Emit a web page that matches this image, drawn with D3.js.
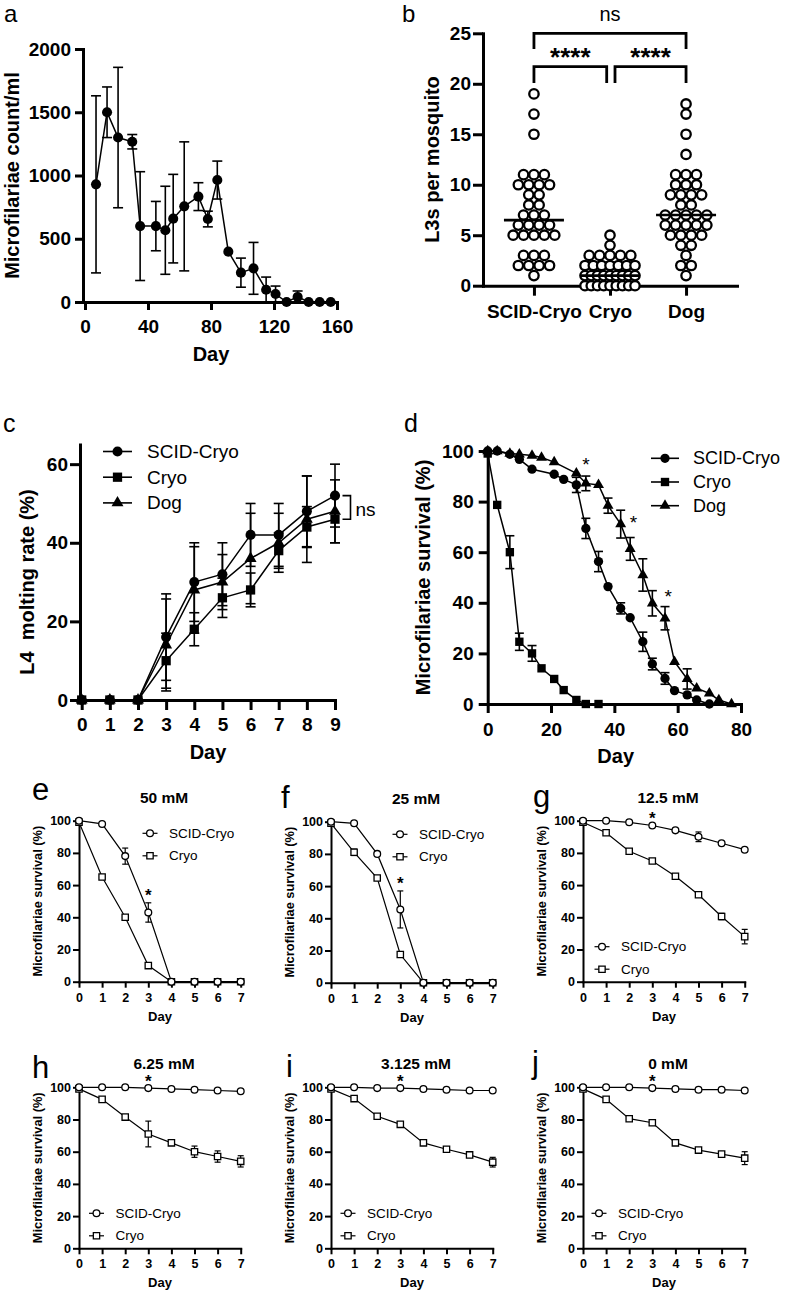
<!DOCTYPE html>
<html>
<head>
<meta charset="utf-8">
<script src="https://cdn.jsdelivr.net/npm/d3@7"></script>
<style>body{margin:0;background:#fff}</style>
</head>
<body>
<script>
// ---------- panel a : microfilaraemia over time ----------
var mfDays  = [7,14,21,30,35,45,51,56,63,72,78,84,91,99,107,115,121,128,135,142,149,156];
var mfCount = [930,1500,1300,1267,600,600,567,659,756,833,656,964,398,232,266,97,63,0,40,0,0,0];
var mfSD    = [700,200,555,57,430,195,348,350,510,110,62,150,0,115,205,100,63,0,47,0,0,0];
var mfTicksX = [0,40,80,120,160];
var mfTicksY = [0,500,1000,1500,2000];

// ---------- panel b : L3 per mosquito ----------
var l3Groups = ["SCID-Cryo","Cryo","Dog"];
var l3Scid = [19,17,15,11,11,11,10,10,10,10,9,9,8,8,7,7,7,6,6,6,6,5,5,5,5,5,3,3,3,2,2,2,2,1];
var l3Cryo = [5,4,3,3,3,3,3,2,2,2,2,2,2,2,1,1,1,1,1,1,1,1,1,0,0,0,0,0,0,0,0,0];
var l3Dog  = [18,17,15,13,11,11,11,10,10,10,9,9,9,9,8,8,7,7,7,7,7,6,6,6,6,6,5,5,5,5,4,4,3,2,2,1];
var l3Center = [6.5,1,7];
var l3Ticks = [0,5,10,15,20,25];
var l3Comparisons = [["SCID-Cryo","Dog","ns"],["SCID-Cryo","Cryo","****"],["Cryo","Dog","****"]];

// ---------- panel c : L4 molting ----------
var moltDays   = [0,1,2,3,4,5,6,7,8,9];
var moltScid   = [0,0,0,16,30,32,42,42,48,52];
var moltScidSD = [0,0,0,11,10,8,8,8,9,8];
var moltCryo   = [0,0,0,10,18,26,28,38,44,46];
var moltCryoSD = [0,0,0,7,4.2,5,4.3,4.5,5.2,6];
var moltDog    = [0,0,0,14,28,30,36,40,46,48];
var moltDogSD  = [0,0,0,11.7,11,7,11.5,7.5,11,8];
var moltTicksY = [0,20,40,60];

// ---------- panel d : microfilariae survival ----------
var survScidDays = [0,3,7,10,14,21,24,28,31,35,38,42,45,49,52,56,59,63,66,70];
var survScid     = [100,100,98.7,96.7,92.8,90.8,88.8,86.6,69.4,56.3,46.4,37.8,34.1,24.6,15.8,10.1,5.3,3.6,1.6,0];
var survScidSD   = [0,0,0,0,0,0,0,3,4,4,0,2.2,0,3.8,2.3,2.3,0,0,0,0];
var survCryoDays = [0,3,7,10,14,17,21,24,28,31,35];
var survCryo     = [99,78.7,60,24.6,20,14.1,9.9,5.5,1.6,0,0];
var survCryoSD   = [0,0,6.5,3.4,3.1,0,0,0,0,0,0];
var survDogDays  = [0,3,7,10,14,17,21,28,31,35,38,42,45,49,52,56,59,63,66,70,73,77];
var survDog      = [100,100,99,98.7,98.2,97.4,95.6,91.2,87.2,86.6,78.4,71.1,61.3,51,39.8,33.9,16.7,9.9,6.2,4.2,1.6,0];
var survDogSD    = [0,0,0,0,0,0,0,0,2.9,0,3,5.5,4.5,6.4,5,4.6,0,4,0,0,0,0];
var survStars    = [[31,96],[46,73],[57,44]];
var survTicksX = [0,20,40,60,80];
var survTicksY = [0,20,40,60,80,100];

// ---------- panels e-j : survival under drug concentrations ----------
var drugDays = [0,1,2,3,4,5,6,7];
var drugTicksY = [0,20,40,60,80,100];
var c50Scid   = [100,98,78,43,0,0,0,0];
var c50ScidSD = [0,0,5,6,0,0,0,0];
var c50Cryo   = [99,65,40,10,0,0,0,0];
var c50CryoSD = [0,0,0,0,0,0,0,0];
var c25Scid   = [100,99,80,45.5,0,0,0,0];
var c25ScidSD = [0,0,0,11.5,0,0,0,0];
var c25Cryo   = [99,81,65,17.5,0,0,0,0];
var c25CryoSD = [0,2,0,0,0,0,0,0];
var c12Scid   = [100,100,99,97,94,90,86,82];
var c12ScidSD = [0,0,0,0,0,3,0,0];
var c12Cryo   = [99,92.5,81,75,65.5,54,40.5,28];
var c12CryoSD = [0,0,0,0,0,0,2,4.5];
var c6Scid    = [100,100,100,99.5,99,98.5,98,97.5];
var c6ScidSD  = [0,0,0,0,0,0,0,0];
var c6Cryo    = [99,92.5,81.5,71,65.5,60,57,54];
var c6CryoSD  = [0,0,0,8,0,3.5,3.5,3.5];
var c3Scid    = [100,100,99.5,99.5,99,98.5,98,98];
var c3ScidSD  = [0,0,0,0,0,0,0,0];
var c3Cryo    = [99,93,82,77,65.5,61.5,58,53.5];
var c3CryoSD  = [0,0,0,0,0,0,0,3];
var c0Scid    = [100,100,100,99.5,99,98.5,98.5,98];
var c0ScidSD  = [0,0,0,0,0,0,0,0];
var c0Cryo    = [99,92.5,80.5,78,65.5,61,58.5,56];
var c0CryoSD  = [0,0,0,0,0,0,0,4];

var FONT = "'Liberation Sans', Arial, Helvetica, sans-serif";

var svg = d3.select("body").append("svg")
  .attr("width", 785)
  .attr("height", 1292)
  .attr("font-family", FONT)
  .style("display", "block");

function label(x, y, s, size, weight, anchor, rot) {
  var t = svg.append("text")
    .attr("x", x).attr("y", y)
    .attr("font-size", size)
    .attr("font-weight", weight || "normal")
    .attr("text-anchor", anchor || "start")
    .attr("fill", "#000")
    .text(s);
  if (rot) {
    t.attr("transform", "rotate(-90," + x + "," + y + ")")
      .attr("dominant-baseline", "central");
  }
  return t;
}

function axes(x, y, o) {
  var bottom = d3.axisBottom(x).tickSize(o.ts).tickSizeOuter(0).tickPadding(o.xp);
  if (o.xt) bottom.tickValues(o.xt).tickFormat(d3.format("d"));
  var left = d3.axisLeft(y).tickValues(o.yt).tickFormat(d3.format("d"))
    .tickSize(o.ts).tickSizeOuter(0).tickPadding(o.yp);
  var ax = svg.append("g").attr("transform", "translate(0," + y.range()[0] + ")").call(bottom);
  var ay = svg.append("g").attr("transform", "translate(" + o.x0 + ",0)").call(left);
  [ax, ay].forEach(function(a) {
    a.attr("font-family", FONT).attr("font-size", o.fs).attr("font-weight", "bold");
    a.select(".domain").attr("stroke-width", o.sw).attr("stroke-linecap", "square");
    a.selectAll(".tick line").attr("stroke-width", o.sw);
    a.selectAll(".tick text").attr("fill", "#000");
  });
}

function series(x, y, xs, ys, sd, o) {
  var g = svg.append("g");
  var pts = d3.zip(xs, ys, sd);
  var lo = y.domain()[0];
  var eb = g.append("g").attr("stroke", "#000").attr("stroke-width", o.ew);
  pts.filter(function(d) { return d[2] > 0; }).forEach(function(d) {
    var cx = x(d[0]);
    var top = y(d[1] + d[2]), bot = y(Math.max(lo, d[1] - d[2]));
    eb.append("line").attr("x1", cx).attr("x2", cx).attr("y1", top).attr("y2", bot);
    eb.append("line").attr("x1", cx - o.cap / 2).attr("x2", cx + o.cap / 2).attr("y1", top).attr("y2", top);
    if (d[1] - d[2] > lo) {
      eb.append("line").attr("x1", cx - o.cap / 2).attr("x2", cx + o.cap / 2).attr("y1", bot).attr("y2", bot);
    }
  });
  g.append("path")
    .datum(pts)
    .attr("fill", "none")
    .attr("stroke", "#000")
    .attr("stroke-width", o.lw)
    .attr("d", d3.line().x(function(d) { return x(d[0]); }).y(function(d) { return y(d[1]); }));
  g.selectAll(".m")
    .data(pts)
    .enter()
    .append("path")
    .attr("transform", function(d) { return "translate(" + x(d[0]) + "," + y(d[1]) + ")"; })
    .attr("d", d3.symbol(o.sym, o.size))
    .attr("fill", o.fill)
    .attr("stroke", "#000")
    .attr("stroke-width", o.msw);
}

function legend(items, mx, y0, dy, half, tdx, fs, lw) {
  items.forEach(function(it, i) {
    var yy = y0 + i * dy;
    svg.append("line").attr("x1", mx - half).attr("x2", mx + half).attr("y1", yy).attr("y2", yy)
      .attr("stroke", "#000").attr("stroke-width", lw);
    svg.append("path").attr("transform", "translate(" + mx + "," + yy + ")")
      .attr("d", d3.symbol(it.sym, it.size))
      .attr("fill", it.fill).attr("stroke", "#000").attr("stroke-width", it.msw);
    label(mx + tdx, yy, it.label, fs).attr("dominant-baseline", "central");
  });
}

// ================= panel a =================
var xa = d3.scaleLinear().domain([0, 160]).range([85, 337]);
var ya = d3.scaleLinear().domain([0, 2000]).range([302, 49]);
axes(xa, ya, {x0: 83, xt: mfTicksX, yt: mfTicksY, ts: 8, xp: 10, yp: 4, fs: 19, sw: 3});
series(xa, ya, mfDays, mfCount, mfSD, {sym: d3.symbolCircle, size: 80, fill: "#000", lw: 1.5, ew: 1.6, cap: 10, msw: 0});
label(4, 22, "a", 24);
label(12, 175.5, "Microfilariae count/ml", 20, "bold", "middle", true);
label(211, 361, "Day", 20, "bold", "middle");

// ================= panel b =================
var xb = d3.scalePoint().domain(l3Groups).range([483, 737]).padding(0.67);
var yb = d3.scaleLinear().domain([0, 25]).range([285.7, 33.3]);
axes(xb, yb, {x0: 483, xt: null, yt: l3Ticks, ts: 10, xp: 9, yp: 2, fs: 19, sw: 3});
[l3Scid, l3Cryo, l3Dog].forEach(function(vals, gi) {
  var cx = xb(l3Groups[gi]);
  var rows = d3.group(vals, function(v) { return v; });
  rows.forEach(function(arr, v) {
    var n = arr.length;
    var step = n > 1 ? Math.min(10.4, 50 / (n - 1)) : 0;
    arr.forEach(function(d, i) {
      svg.append("circle")
        .attr("cx", cx + (i - (n - 1) / 2) * step)
        .attr("cy", yb(v))
        .attr("r", 4.7)
        .attr("fill", "#fff")
        .attr("stroke", "#000")
        .attr("stroke-width", 2.3);
    });
  });
  svg.append("line")
    .attr("x1", cx - 30).attr("x2", cx + 30)
    .attr("y1", yb(l3Center[gi])).attr("y2", yb(l3Center[gi]))
    .attr("stroke", "#000").attr("stroke-width", 2.6);
});
// significance brackets
l3Comparisons.forEach(function(c, i) {
  var x1 = xb(c[0]), x2 = xb(c[1]);
  var top = i === 0 ? 33.3 : 66.7, leg = i === 0 ? 49 : 83;
  if (i === 1) x2 -= 3.3;
  if (i === 2) x1 += 5;
  svg.append("path")
    .attr("d", "M" + x1 + "," + leg + "V" + top + "H" + x2 + "V" + leg)
    .attr("fill", "none").attr("stroke", "#000").attr("stroke-width", 2.8);
  if (i === 0) label((x1 + x2) / 2, 21, c[2], 20, "normal", "middle");
  else label((x1 + x2) / 2, 66, c[2], 26, "bold", "middle");
});
label(402, 22, "b", 24);
label(431.7, 159.5, "L3s per mosquito", 20, "bold", "middle", true);

// ================= panel c =================
var xc = d3.scaleLinear().domain([0, 9]).range([81.7, 335]);
var yc = d3.scaleLinear().domain([0, 65]).range([700, 444.5]);
axes(xc, yc, {x0: 80, xt: moltDays, yt: moltTicksY, ts: 10, xp: 8, yp: 2, fs: 19, sw: 3});
var bigOpt = {lw: 1.5, ew: 1.6, cap: 10, msw: 0, fill: "#000"};
series(xc, yc, moltDays, moltCryo, moltCryoSD, Object.assign({sym: d3.symbolSquare, size: 86}, bigOpt));
series(xc, yc, moltDays, moltDog, moltDogSD, Object.assign({sym: d3.symbolTriangle, size: 62}, bigOpt));
series(xc, yc, moltDays, moltScid, moltScidSD, Object.assign({sym: d3.symbolCircle, size: 80}, bigOpt));
legend([
  {label: "SCID-Cryo", sym: d3.symbolCircle, size: 80, fill: "#000", msw: 0},
  {label: "Cryo", sym: d3.symbolSquare, size: 86, fill: "#000", msw: 0},
  {label: "Dog", sym: d3.symbolTriangle, size: 62, fill: "#000", msw: 0}
], 117.5, 451.5, 25.7, 14.5, 29.5, 19, 1.6);
// ns bracket between end points
var nsX = xc(9) + 15.5;
svg.append("path")
  .attr("d", "M" + (nsX - 8) + "," + yc(moltScid[9]) + "H" + nsX + "V" + yc(moltCryo[9]) + "H" + (nsX - 8))
  .attr("fill", "none").attr("stroke", "#000").attr("stroke-width", 1.6);
label(nsX + 5, 515.5, "ns", 19);
label(3, 432, "c", 25);
label(27, 582, "L4\u00a0 molting rate (%)", 20, "bold", "middle", true);
label(208, 759, "Day", 20, "bold", "middle");

// ================= panel d =================
var xd = d3.scaleLinear().domain([0, 80]).range([487.7, 741]);
var yd = d3.scaleLinear().domain([0, 100]).range([704, 451]);
axes(xd, yd, {x0: 487.7, xt: survTicksX, yt: survTicksY, ts: 9, xp: 10, yp: 5, fs: 19, sw: 3});
var dOpt = {lw: 1.5, ew: 1.6, cap: 9, msw: 0, fill: "#000"};
series(xd, yd, survDogDays, survDog, survDogSD, Object.assign({sym: d3.symbolTriangle, size: 52}, dOpt));
series(xd, yd, survScidDays, survScid, survScidSD, Object.assign({sym: d3.symbolCircle, size: 68}, dOpt));
series(xd, yd, survCryoDays, survCryo, survCryoSD, Object.assign({sym: d3.symbolSquare, size: 70}, dOpt));
survStars.forEach(function(s) {
  label(xd(s[0]), yd(s[1]) + 10, "*", 19, "normal", "middle");
});
legend([
  {label: "SCID-Cryo", sym: d3.symbolCircle, size: 68, fill: "#000", msw: 0},
  {label: "Cryo", sym: d3.symbolSquare, size: 70, fill: "#000", msw: 0},
  {label: "Dog", sym: d3.symbolTriangle, size: 52, fill: "#000", msw: 0}
], 665, 458.3, 23.7, 14, 28, 18, 1.6);
label(404, 432, "d", 25);
label(423, 577.5, "Microfilariae survival (%)", 20, "bold", "middle", true);
label(615.7, 762.5, "Day", 20, "bold", "middle");

// ================= panels e-j =================
var smallLayout = [
  {letter: "e", lx: 32,  ly: 800,  x0: 79,  y100: 820.7,  title: "50 mM",    scid: c50Scid, scidSD: c50ScidSD, cryo: c50Cryo, cryoSD: c50CryoSD, legX: 71, legY: 12.6},
  {letter: "f", lx: 281, ly: 808,  x0: 331, y100: 821.7,  title: "25 mM",    scid: c25Scid, scidSD: c25ScidSD, cryo: c25Cryo, cryoSD: c25CryoSD, legX: 69, legY: 12.6},
  {letter: "g", lx: 533, ly: 807,  x0: 583, y100: 820.7,  title: "12.5 mM",  scid: c12Scid, scidSD: c12ScidSD, cryo: c12Cryo, cryoSD: c12CryoSD, legX: 19, legY: 126},
  {letter: "h", lx: 32,  ly: 1078, x0: 79,  y100: 1087.3, title: "6.25 mM",  scid: c6Scid,  scidSD: c6ScidSD,  cryo: c6Cryo,  cryoSD: c6CryoSD,  legX: 17.5, legY: 126},
  {letter: "i", lx: 286, ly: 1077, x0: 331, y100: 1087.3, title: "3.125 mM", scid: c3Scid,  scidSD: c3ScidSD,  cryo: c3Cryo,  cryoSD: c3CryoSD,  legX: 17, legY: 126},
  {letter: "j", lx: 532, ly: 1073, x0: 583, y100: 1087.3, title: "0 mM",     scid: c0Scid,  scidSD: c0ScidSD,  cryo: c0Cryo,  cryoSD: c0CryoSD,  legX: 16, legY: 126}
];

smallLayout.forEach(function(p) {
  var x = d3.scaleLinear().domain([0, 7]).range([p.x0, p.x0 + 161.7]);
  var y = d3.scaleLinear().domain([0, 100]).range([p.y100 + 161, p.y100]);
  axes(x, y, {x0: p.x0, xt: drugDays, yt: drugTicksY, ts: 6, xp: 5, yp: 2, fs: 12.5, sw: 2});
  var o = {lw: 1.2, ew: 1.2, cap: 6, msw: 1.3, fill: "#fff"};
  series(x, y, drugDays, p.cryo, p.cryoSD, Object.assign({sym: d3.symbolSquare, size: 40}, o));
  series(x, y, drugDays, p.scid, p.scidSD, Object.assign({sym: d3.symbolCircle, size: 36}, o));
  // significance at day 3
  label(x(3), y(p.scid[3] + p.scidSD[3]) - 1.5, "*", 17, "bold", "middle");
  legend([
    {label: "SCID-Cryo", sym: d3.symbolCircle, size: 36, fill: "#fff", msw: 1.3},
    {label: "Cryo", sym: d3.symbolSquare, size: 40, fill: "#fff", msw: 1.3}
  ], p.x0 + p.legX, p.y100 + p.legY, 22.5, 7.5, 19, 13.5, 1.2);
  label(p.lx, p.ly, p.letter, 31);
  label(p.x0 + 85, p.y100 - 18, p.title, 15.5, "bold", "middle");
  label(p.x0 - 41, p.y100 + 80.5, "Microfilariae survival (%)", 12.8, "bold", "middle", true);
  label(p.x0 + 81, p.y100 + 200, "Day", 13, "bold", "middle");
});
</script>
</body>
</html>
